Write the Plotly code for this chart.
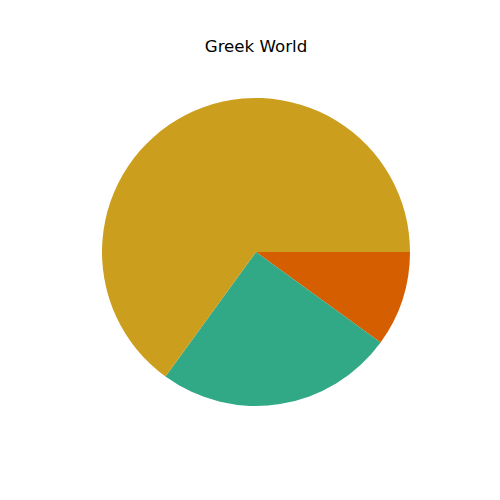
import plotly.graph_objects as go

labels = ["A", "B", "C"]
values = [65, 25, 10]
colors = ["#CC9E1E", "#31A986", "#D55E00"]

# drawn clockwise from 3 o'clock in reverse order, equivalent to counterclockwise from 3 o'clock
fig = go.Figure(go.Pie(
    labels=labels[::-1],
    values=values[::-1],
    marker=dict(colors=colors[::-1], line=dict(width=0)),
    sort=False,
    direction="clockwise",
    rotation=90,
    textinfo="none",
    hoverinfo="label+percent",
    showlegend=False,
))

fig.update_layout(
    width=500, height=500,
    margin=dict(l=102, r=90, t=98, b=94),
    paper_bgcolor="white",
    plot_bgcolor="white",
    title=dict(text="Greek World", x=0.512, xanchor="center", y=1 - 46/500, yanchor="middle",
               yref="container", font=dict(family="DejaVu Sans", size=16.67, color="black")),
)

fig.write_html("out.html")
